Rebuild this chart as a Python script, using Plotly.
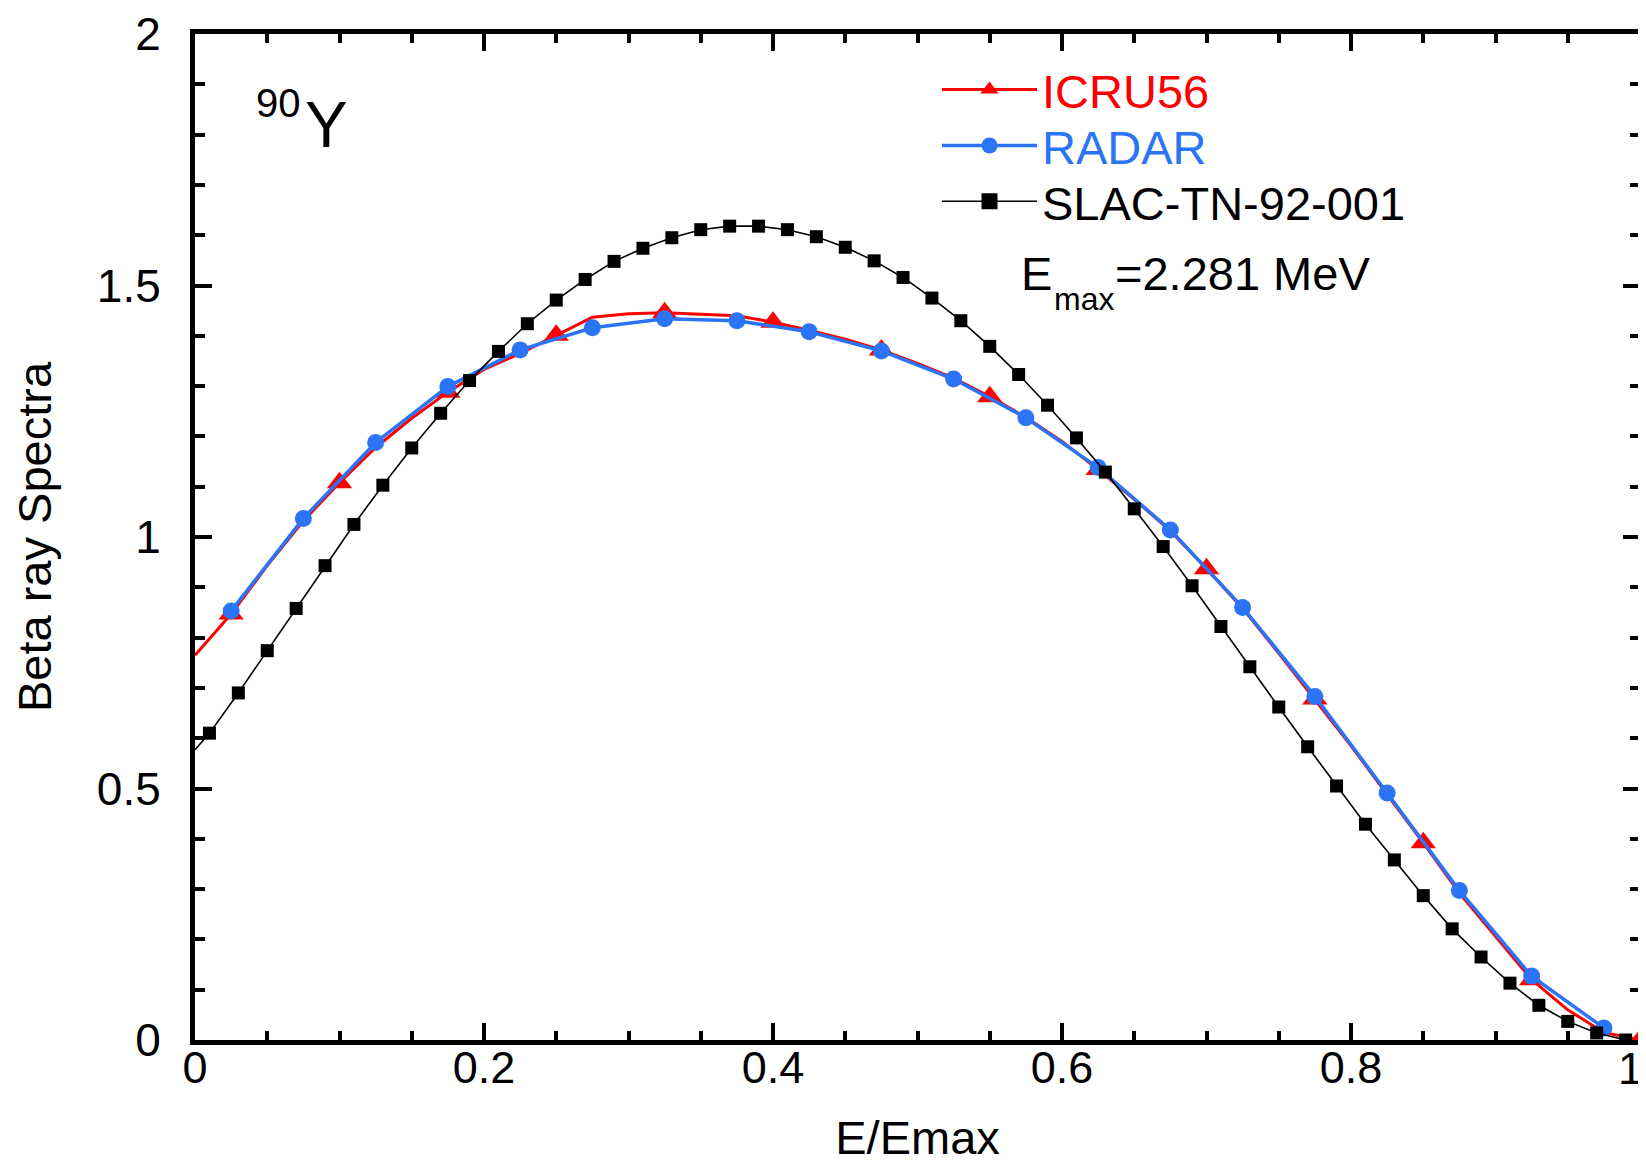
import plotly.graph_objects as go

# ---------------- data ----------------
icru_x = [0.0, 0.025, 0.05, 0.075, 0.1, 0.125, 0.15, 0.175, 0.2, 0.225,
          0.25, 0.275, 0.3, 0.325, 0.35, 0.375, 0.4, 0.425, 0.45, 0.475,
          0.5, 0.525, 0.55, 0.575, 0.6, 0.625, 0.65, 0.675, 0.7, 0.725,
          0.75, 0.775, 0.8, 0.825, 0.85, 0.875, 0.9, 0.925, 0.95, 0.975, 1.0]
icru_y = [0.765, 0.847, 0.943, 1.032, 1.108, 1.178, 1.236, 1.288, 1.333, 1.365,
          1.401, 1.437, 1.444, 1.446, 1.443, 1.440, 1.427, 1.411, 1.393, 1.372,
          1.345, 1.316, 1.279, 1.238, 1.190, 1.134, 1.075, 1.012, 0.937, 0.858,
          0.769, 0.678, 0.585, 0.488, 0.392, 0.292, 0.205, 0.120, 0.060, 0.015, 0.000]

radar_x = [0.025, 0.075, 0.125, 0.175, 0.225, 0.275, 0.325, 0.375, 0.425, 0.475,
           0.525, 0.575, 0.625, 0.675, 0.725, 0.775, 0.825, 0.875, 0.925, 0.975]
radar_y = [0.853, 1.037, 1.188, 1.299, 1.372, 1.416, 1.434, 1.430, 1.408, 1.370,
           1.314, 1.237, 1.138, 1.014, 0.860, 0.683, 0.491, 0.297, 0.127, 0.024]

slac_x = [0.0, 0.01, 0.03, 0.05, 0.07, 0.09, 0.11, 0.13, 0.15, 0.17, 0.19,
          0.21, 0.23, 0.25, 0.27, 0.29, 0.31, 0.33, 0.35, 0.37, 0.39,
          0.41, 0.43, 0.45, 0.47, 0.49, 0.51, 0.53, 0.55, 0.57, 0.59,
          0.61, 0.63, 0.65, 0.67, 0.69, 0.71, 0.73, 0.75, 0.77, 0.79,
          0.81, 0.83, 0.85, 0.87, 0.89, 0.91, 0.93, 0.95, 0.97, 0.99]
slac_y = [0.577, 0.610, 0.690, 0.774, 0.858, 0.943, 1.025, 1.103, 1.177, 1.246, 1.311,
          1.369, 1.424, 1.471, 1.512, 1.548, 1.574, 1.595, 1.611, 1.618, 1.618,
          1.611, 1.597, 1.576, 1.549, 1.516, 1.475, 1.430, 1.379, 1.323, 1.262,
          1.197, 1.129, 1.056, 0.981, 0.903, 0.822, 0.742, 0.662, 0.583, 0.505,
          0.429, 0.358, 0.287, 0.221, 0.165, 0.113, 0.069, 0.037, 0.014, 0.000]

series_names = ["ICRU56", "RADAR", "SLAC-TN-92-001"]
x_ticks = [0, 0.2, 0.4, 0.6, 0.8, 1]
y_ticks = [0, 0.5, 1, 1.5, 2]

RED = "#FF0000"
BLUE = "#2A74F5"
BLACK = "#000000"
FONT = "Liberation Sans, Arial, sans-serif"

fig = go.Figure()

# ICRU56: line through every point, markers on every third point
fig.add_trace(go.Scatter(x=icru_x, y=icru_y, mode="lines",
                         line=dict(color=RED, width=3), showlegend=False))
fig.add_trace(go.Scatter(x=icru_x[1::3], y=icru_y[1::3], mode="markers",
                         marker=dict(symbol="triangle-up", size=22, color=RED),
                         showlegend=False))
# RADAR
fig.add_trace(go.Scatter(x=radar_x, y=radar_y, mode="lines+markers",
                         line=dict(color=BLUE, width=3.5),
                         marker=dict(symbol="circle", size=17, color=BLUE),
                         showlegend=False))
# SLAC
fig.add_trace(go.Scatter(x=slac_x, y=slac_y, mode="lines",
                         line=dict(color=BLACK, width=1.6), showlegend=False))
fig.add_trace(go.Scatter(x=slac_x[1:], y=slac_y[1:], mode="markers",
                         marker=dict(symbol="square", size=13, color=BLACK),
                         showlegend=False))

# legend entries (one legend per row so the row spacing can be matched)
leg_styles = [(RED, "triangle-up", 3), (BLUE, "circle", 3.5), (BLACK, "square", 1.6)]
leg_ids = ["legend", "legend2", "legend3"]
for name, (col, sym, lw), lid in zip(series_names, leg_styles, leg_ids):
    fig.add_trace(go.Scatter(x=[None], y=[None], mode="lines+markers",
                             name=f"<span style='color:{col}'>{name}</span>",
                             legend=lid,
                             line=dict(color=col, width=lw),
                             marker=dict(symbol=sym, size=16, color=col)))

axis_common = dict(
    showline=True, linecolor="black", linewidth=5, mirror="ticks",
    ticks="inside", ticklen=17, tickwidth=4, tickcolor="black",
    showgrid=False, zeroline=False,
)

# last x tick label ("1") sits at the figure edge: drawn as an annotation instead
x_ticktext = [f"{v:g}" for v in x_ticks[:-1]] + [""]

fig.update_xaxes(range=[0, 1], tickvals=x_ticks, ticktext=x_ticktext,
                 tickfont=dict(family=FONT, size=45, color="black"),
                 ticklabelstandoff=-16,
                 minor=dict(dtick=0.05, ticks="inside", ticklen=9, tickwidth=4,
                            tickcolor="black", showgrid=False),
                 title=dict(text="E/Emax", font=dict(family=FONT, size=47, color="black"),
                            standoff=37),
                 **axis_common)
fig.update_yaxes(range=[0, 2], tickvals=y_ticks,
                 ticktext=[f"{v:g}" for v in y_ticks],
                 tickfont=dict(family=FONT, size=46, color="black"),
                 ticklabeloverflow="allow", ticklabelstandoff=20,
                 minor=dict(dtick=0.1, ticks="inside", ticklen=10, tickwidth=4,
                            tickcolor="black", showgrid=False),
                 title=dict(text="Beta ray Spectra", font=dict(family=FONT, size=47, color="black"),
                            standoff=37),
                 **axis_common)

ann_font = lambda s: dict(family=FONT, size=s, color="black")
annotations = [
    dict(x=0.0406, y=1.8632, text="90", font=ann_font(40)),
    dict(x=0.0746, y=1.8184, text="Y", font=ann_font(64)),
    dict(x=0.5701, y=1.5244, text="E", font=ann_font(47)),
    dict(x=0.5931, y=1.4728, text="max", font=ann_font(32)),
    dict(x=0.6352, y=1.5236, text="=2.281 MeV", font=ann_font(47)),
]
for a in annotations:
    a.update(xref="x", yref="y", xanchor="left", yanchor="middle", showarrow=False)
annotations.append(dict(x=x_ticks[-1], y=0, xref="x", yref="paper",
                        text=f"{x_ticks[-1]:g}", font=ann_font(45),
                        xanchor="right", yanchor="middle", xshift=5, yshift=-28,
                        showarrow=False))

leg_common = dict(x=0.5135, xanchor="left", yanchor="middle",
                  font=dict(family=FONT, size=47), itemwidth=95,
                  bgcolor="rgba(0,0,0,0)", borderwidth=0)

fig.update_layout(
    width=1638, height=1156,
    margin=dict(l=187, r=6, t=26, b=124, autoexpand=False),
    paper_bgcolor="white", plot_bgcolor="white",
    font=dict(family=FONT, color="black"),
    annotations=annotations,
    legend=dict(y=0.9443, **leg_common),
    legend2=dict(y=0.8887, **leg_common),
    legend3=dict(y=0.8333, **leg_common),
)

fig.write_html("out.html")
